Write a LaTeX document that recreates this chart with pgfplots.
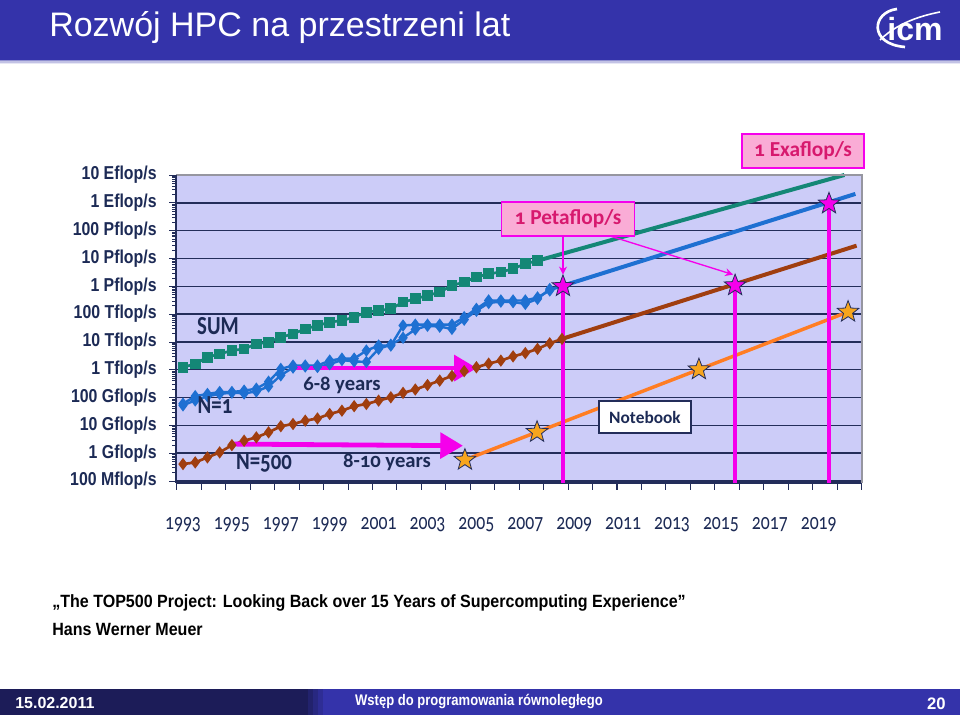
\documentclass[border=0pt]{standalone}
\usepackage{fontspec}
\setmainfont{Liberation Sans}
\newfontfamily\narrowfont[FakeStretch=0.85]{Liberation Sans}
\newfontfamily\citefont[FakeStretch=0.905]{Liberation Sans}
\newfontfamily\labfont[Numbers=OldStyle,FakeStretch=0.8]{Carlito}
\newfontfamily\boxfont[Numbers=OldStyle]{Carlito}
\newfontfamily\yearfont[Numbers=OldStyle,FakeStretch=0.78]{Carlito}
\usepackage{pgfplots}
\usepackage{pgfplotstable}
\pgfplotsset{compat=1.18}
\usetikzlibrary{arrows.meta}

\definecolor{titleblue}{RGB}{52,51,170}
\definecolor{footdark}{RGB}{28,28,88}
\definecolor{plotbg}{RGB}{204,204,248}
\definecolor{gridnavy}{RGB}{35,45,90}
\definecolor{labnavy}{RGB}{28,42,85}
\definecolor{sumteal}{RGB}{20,135,118}
\definecolor{n1blue}{RGB}{30,112,210}
\definecolor{n500brown}{RGB}{160,62,15}
\definecolor{nborange}{RGB}{255,125,35}
\definecolor{starorange}{RGB}{247,165,30}
\definecolor{pinkline}{RGB}{245,0,235}
\definecolor{pinkfill}{RGB}{250,172,214}
\definecolor{pinktext}{RGB}{215,25,110}
\definecolor{framegray}{RGB}{150,150,160}

\pgfdeclareplotmark{fstar}{%
  \pgfpathmoveto{\pgfpointpolar{90}{\pgfplotmarksize}}%
  \pgfpathlineto{\pgfpointpolar{126}{0.42\pgfplotmarksize}}%
  \pgfpathlineto{\pgfpointpolar{162}{\pgfplotmarksize}}%
  \pgfpathlineto{\pgfpointpolar{198}{0.42\pgfplotmarksize}}%
  \pgfpathlineto{\pgfpointpolar{234}{\pgfplotmarksize}}%
  \pgfpathlineto{\pgfpointpolar{270}{0.42\pgfplotmarksize}}%
  \pgfpathlineto{\pgfpointpolar{306}{\pgfplotmarksize}}%
  \pgfpathlineto{\pgfpointpolar{342}{0.42\pgfplotmarksize}}%
  \pgfpathlineto{\pgfpointpolar{18}{\pgfplotmarksize}}%
  \pgfpathlineto{\pgfpointpolar{54}{0.42\pgfplotmarksize}}%
  \pgfpathclose
  \pgfusepathqfillstroke
}

% log10 of flop/s
\pgfplotstableread{
X V
1993.0 12.09
1993.5 12.21
1994.0 12.45
1994.5 12.57
1995.0 12.69
1995.5 12.75
1996.0 12.93
1996.5 12.99
1997.0 13.17
1997.5 13.29
1998.0 13.47
1998.5 13.59
1999.0 13.71
1999.5 13.77
2000.0 13.89
2000.5 14.07
2001.0 14.13
2001.5 14.19
2002.0 14.43
2002.5 14.55
2003.0 14.67
2003.5 14.79
2004.0 15.03
2004.5 15.15
2005.0 15.33
2005.5 15.45
2006.0 15.51
2006.5 15.63
2007.0 15.81
2007.5 15.92
}\sumdata

\pgfplotstableread{
X V
1993.0 10.78
1993.5 11.05
1994.0 11.13
1994.5 11.20
1995.0 11.20
1995.5 11.25
1996.0 11.32
1996.5 11.57
1997.0 12.03
1997.5 12.15
1998.0 12.15
1998.5 12.15
1999.0 12.33
1999.5 12.40
2000.0 12.40
2000.5 12.69
2001.0 12.87
2001.5 12.87
2002.0 13.59
2002.5 13.62
2003.0 13.62
2003.5 13.62
2004.0 13.62
2004.5 13.89
2005.0 14.19
2005.5 14.49
2006.0 14.49
2006.5 14.49
2007.0 14.49
2007.5 14.60
2008.0 14.85
2008.5 15.01
}\nonedata

\pgfplotstableread{
X V
1993.0 10.72
1993.5 10.90
1994.0 11.05
1994.5 11.13
1995.0 11.18
1995.5 11.15
1996.0 11.22
1996.5 11.40
1997.0 11.80
1997.5 12.08
1998.0 12.12
1998.5 12.10
1999.0 12.20
1999.5 12.35
2000.0 12.30
2000.5 12.28
2001.0 12.75
2001.5 12.90
2002.0 13.15
2002.5 13.45
2003.0 13.58
2003.5 13.55
2004.0 13.47
2004.5 13.80
2005.0 14.12
2005.5 14.40
2006.0 14.45
2006.5 14.43
2007.0 14.37
2007.5 14.55
2008.0 14.90
2008.5 15.00
}\nonebdata

\pgfplotstableread{
X V
1993.0 8.61
1993.5 8.67
1994.0 8.85
1994.5 9.03
1995.0 9.29
1995.5 9.45
1996.0 9.57
1996.5 9.75
1997.0 9.97
1997.5 10.05
1998.0 10.17
1998.5 10.25
1999.0 10.41
1999.5 10.53
2000.0 10.69
2000.5 10.77
2001.0 10.89
2001.5 11.01
2002.0 11.17
2002.5 11.29
2003.0 11.45
2003.5 11.61
2004.0 11.78
2004.5 11.95
2005.0 12.09
2005.5 12.22
2006.0 12.33
2006.5 12.48
2007.0 12.60
2007.5 12.75
2008.0 12.95
2008.5 13.11
}\nfivedata

\begin{document}
\begin{tikzpicture}
\path[use as bounding box] (0,0) rectangle (720pt,536.25pt);
\fill[white] (0,0) rectangle (720pt,536.25pt);

% ---------- main chart ----------
\begin{axis}[
  at={(132pt,174pt)}, anchor=south west,
  scale only axis, width=514.5pt, height=231pt,
  xmin=1992.714, xmax=2020.77, ymin=7.93, ymax=19,
  clip=false,
  axis x line*=bottom, axis y line*=left,
  x axis line style={gridnavy, line width=1.2pt, -},
  y axis line style={draw=none},
  axis background/.style={fill=plotbg},
  ymajorgrids, grid style={gridnavy, line width=1.1pt},
  ytick={8,...,19},
  yticklabels={100 Mflop/s,1 Gflop/s,10 Gflop/s,100 Gflop/s,1 Tflop/s,10 Tflop/s,100 Tflop/s,1 Pflop/s,10 Pflop/s,100 Pflop/s,1 Eflop/s,10 Eflop/s},
  ytick style={draw=none},
  yticklabel style={font=\narrowfont\bfseries\fontsize{14}{14}\selectfont, text=labnavy, xshift=-6pt},
  xtick={1992.75,1993.75,...,2020.75},
  xticklabels={},
  xtick style={gridnavy, line width=0.8pt},
  tick align=outside, major tick length=5pt,
  extra x ticks={1993,1995,1997,1999,2001,2003,2005,2007,2009,2011,2013,2015,2017,2019},
  extra x tick labels={1993,1995,1997,1999,2001,2003,2005,2007,2009,2011,2013,2015,2017,2019},
  extra x tick style={major tick length=0pt, tick style={draw=none},
     xticklabel style={font=\yearfont\fontsize{17}{17}\selectfont, text=labnavy, yshift=-22pt}},
]
% measured data
\addplot[sumteal, line width=2pt, mark=square*, mark size=3pt] table[x=X,y=V] {\sumdata};
\addplot[n1blue, line width=1.8pt, mark=diamond*, mark size=3.2pt] table[x=X,y=V] {\nonebdata};
\addplot[n1blue, line width=1.8pt, mark=diamond*, mark size=3.2pt] table[x=X,y=V] {\nonedata};
\addplot[n500brown, line width=2pt, mark=diamond*, mark size=3pt] table[x=X,y=V] {\nfivedata};
% projections
\addplot[sumteal, line width=3pt] coordinates {(2007.5,15.92) (2020.05,19.0)};
\addplot[n1blue, line width=3pt] coordinates {(2008.5,15.01) (2020.5,18.32)};
\addplot[n500brown, line width=3pt] coordinates {(2008.5,13.11) (2020.55,16.46)};
% notebook
\addplot[nborange, line width=2.6pt] coordinates {(2004.53,8.76) (2020.2,14.08)};
% pink verticals
\addplot[pinkline, line width=3pt] coordinates {(2008.54,15.0) (2008.54,7.93)};
\addplot[pinkline, line width=3pt] coordinates {(2015.58,15.03) (2015.58,7.93)};
\addplot[pinkline, line width=3pt] coordinates {(2019.42,17.97) (2019.42,7.93)};
% stars
\addplot[only marks, mark=fstar, mark size=8.5pt, mark options={fill=starorange, draw=gridnavy, line width=0.6pt}]
  coordinates {(2004.53,8.76) (2007.48,9.76) (2014.1,12.01) (2020.2,14.08)};
\addplot[only marks, mark=fstar, mark size=8.5pt, mark options={fill=pinkline, draw=gridnavy, line width=0.6pt}]
  coordinates {(2008.54,15.0) (2015.58,15.03) (2019.42,17.97)};
% arrows
\draw[pinkline, line width=3.6pt, -{Triangle[length=17pt,width=19pt]}] (axis cs:1997.58,12.06) -- (axis cs:2005.02,12.06);
\draw[pinkline, line width=3.6pt, -{Triangle[length=17pt,width=19pt]}] (axis cs:1994.92,9.33) -- (axis cs:2004.45,9.27);
\draw[pinkline, line width=1pt, -{Stealth[length=6pt,width=6pt]}] (axis cs:2008.54,16.83) -- (axis cs:2008.54,15.42);
\draw[pinkline, line width=1pt, -{Stealth[length=6pt,width=6pt]}] (axis cs:2010.38,16.83) -- (axis cs:2015.5,15.42);
% frame
\draw[framegray, line width=2pt] (rel axis cs:0,1) -- (rel axis cs:1,1) -- (rel axis cs:1,0);
\end{axis}

% left axis with log ticks
\begin{axis}[
  at={(132pt,174pt)}, anchor=south west,
  scale only axis, width=514.5pt, height=231pt,
  xmin=0, xmax=1, ymode=log, ymin=8.511e7, ymax=1e19,
  hide x axis, axis y line*=left,
  y axis line style={gridnavy, line width=1.2pt, -},
  ytickten={8,...,19}, yticklabels={},
  tick align=outside, major tick length=5pt, minor tick length=3pt,
  ytick style={gridnavy, line width=0.6pt},
  minor y tick style={gridnavy, line width=0.5pt},
]
\addplot[draw=none] coordinates {(0,1e10)};
\end{axis}

\begin{scope}[x=0.75pt,y=-0.75pt,yshift=536.25pt]
  % title bar
  \fill[titleblue] (0,0) rectangle (960,60);
  \fill[titleblue!55] (0,60) rectangle (960,61.5);
  \fill[titleblue!30] (0,61.5) rectangle (960,63);
  \fill[titleblue!12] (0,63) rectangle (960,64.5);
  \node[anchor=west, text=white, inner sep=0pt, font=\fontsize{25.5}{26}\selectfont] at (49,28) {Rozwój HPC na przestrzeni lat};
  % logo
  \node[text=white, inner sep=0pt, font=\bfseries\fontsize{24}{24}\selectfont] at (915,29) {icm};
  \draw[white, line width=2pt] (897,9) .. controls (872,12) and (868,44) .. (905,47);
  \draw[white, line width=1.2pt] (880,40) .. controls (900,20) and (930,14) .. (940,12);

  % in-chart labels
  \node[text=labnavy, inner sep=0pt, font=\labfont\bfseries\fontsize{19.5}{20}\selectfont] at (218,326) {SUM};
  \node[text=labnavy, inner sep=0pt, font=\labfont\bfseries\fontsize{19.5}{20}\selectfont] at (215,405) {N=1};
  \node[text=labnavy, inner sep=0pt, font=\labfont\bfseries\fontsize{19.5}{20}\selectfont] at (264,462) {N=500};
  \node[text=labnavy, inner sep=0pt, font=\boxfont\bfseries\fontsize{15.5}{16}\selectfont] at (342,385) {6-8 years};
  \node[text=labnavy, inner sep=0pt, font=\boxfont\bfseries\fontsize{15.5}{16}\selectfont] at (387,462) {8-10 years};
  \node[draw=gridnavy, fill=white, line width=0.8pt, minimum width=69pt, minimum height=24pt, inner sep=0pt,
        text=labnavy, font=\boxfont\bfseries\fontsize{13}{13}\selectfont] at (645,417) {Notebook};
  \node[draw=pinkline, fill=pinkfill, line width=1pt, minimum width=100pt, minimum height=25.5pt, inner sep=0pt,
        text=pinktext, font=\boxfont\bfseries\fontsize{16}{16}\selectfont] at (568,219) {1 Petaflop/s};
  \node[draw=pinkline, fill=pinkfill, line width=1pt, minimum width=91.5pt, minimum height=25.5pt, inner sep=0pt,
        text=pinktext, font=\boxfont\bfseries\fontsize{16}{16}\selectfont] at (803,151) {1 Exaflop/s};

  % citation
  \node[anchor=base west, inner sep=0pt, font=\citefont\bfseries\fontsize{13.3}{14}\selectfont] at (52,607.5) {„The TOP500 Project: Looking Back over 15 Years of Supercomputing Experience”};
  \node[anchor=base west, inner sep=0pt, font=\citefont\bfseries\fontsize{13.3}{14}\selectfont] at (52,635) {Hans Werner Meuer};

  % footer
  \fill[footdark] (0,689) rectangle (308,715);
  \fill[footdark!75!titleblue] (308,689) rectangle (313,715);
  \fill[footdark!50!titleblue] (313,689) rectangle (318,715);
  \fill[footdark!25!titleblue] (318,689) rectangle (323,715);
  \fill[titleblue] (323,689) rectangle (960,715);
  \node[anchor=base west, inner sep=0pt, text=white, font=\bfseries\fontsize{12}{12}\selectfont] at (15,708) {15.02.2011};
  \node[anchor=base, inner sep=0pt, text=white, font=\narrowfont\bfseries\fontsize{11.5}{12}\selectfont] at (479,705) {Wstęp do programowania równoległego};
  \node[anchor=base east, inner sep=0pt, text=white, font=\bfseries\fontsize{12.5}{13}\selectfont] at (946,709) {20};
\end{scope}
\end{tikzpicture}
\end{document}
